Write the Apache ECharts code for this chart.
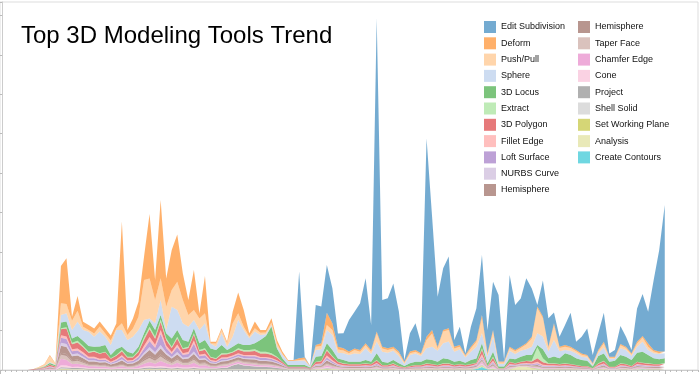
<!DOCTYPE html>
<html><head><meta charset="utf-8">
<script src="https://cdn.jsdelivr.net/npm/echarts@6/dist/echarts.min.js"></script>
<style>html,body{margin:0;padding:0;background:#fff}#c{width:700px;height:374px}</style>
</head><body><div id="c"></div>
<script>
const seriesNames = ["Edit Subdivision","Deform","Push/Pull","Sphere","3D Locus","Extract","3D Polygon","Fillet Edge","Loft Surface","NURBS Curve","Hemisphere","Hemisphere","Taper Face","Chamfer Edge","Cone","Project","Shell Solid","Set Working Plane","Analysis","Create Contours"];
const legendCol1 = ["Edit Subdivision","Deform","Push/Pull","Sphere","3D Locus","Extract","3D Polygon","Fillet Edge","Loft Surface","NURBS Curve","Hemisphere"];
const legendCol2 = ["Hemisphere","Taper Face","Chamfer Edge","Cone","Project","Shell Solid","Set Working Plane","Analysis","Create Contours"];
const monthCount = 127; // axis months (data fills the first 121)
const monthLabels = [];
for (let m = 0; m < monthCount; m++) monthLabels.push('M' + m);

const editSubdivision = [0,0,0,0,0,0,0,0,0,0,0, 0,0,0,0,0,0,0,0,0,0, 0,0,0,0,0,0,0,0,0,0, 0,0,0,0,0,0,0,0,0,0, 0,0,0,0,0,0,0,0,0,0,
 0,0,0,86.7,0.7,0.3,40,36.7,47.7,35, 13.3,15,31.7,36.7,46.7,65,25,313.3,46.7,50, 63.3,40,1.7,18.3,26.7,10,198.3,113.3,50,61.7,
 71.7,6.7,18.3,1.7,20,31.7,60,23.3,48.3,66.7, 1.7,71.7,45,48.3,65,48.3,1.7,36,28.3,10.7, 10,20,34,8.3,16.7,26.7,8.3,16.7,29,3.3, 6.7,18,10,3.3,33.3,42,31.7,70,101.7,146.7];
const deform = [0,0,0,0,0,0,0,0.2,0.5,1,0.5, 37.3,45.7,4,14.7,5,5,5,5,5,5, 5,101.7,5,10,15,23.3,64.3,20,78.3,28.3, 40,47.3,26.7,15,40,5,37.3,1.7,1.7,1.7, 1.7,11.7,20.7,16.7,3.3,6.7,2.7,2.7,4.3,3.3,
 2.3,0.7,0.7,1.7,2,0.3,1.7,2.7,12.3,6.7, 2.7,2.3,1.7,1.7,1.7,1.7,1.7,1.7,1.7,1.7, 1.7,1.7,1,1.7,1.7,1,3.3,3.3,1.7,1.7,
 1.7,1.7,1.7,1,1.7,1.7,3.3,1.7,1.7,1, 1,1.3,1.3,1.3,1.3,1.7,1.7,1.7,1.3,1.7, 1.3,1.7,1.3,1.3,1.3,1,0.7,1.3,1.7,1, 1,1.3,1.3,1,1.7,1.3,3.3,1.7,1.7,1];
const pushPull = [0,0,0,0,0,0,0,0.7,1.5,6,1, 11.7,9.3,9.3,11,3.3,1.6,3.3,5,3.3,4.4, 1.6,6.7,5,8.3,13.3,40,40,23.3,21.7,23.3, 16.7,28.3,23.3,11.7,10,11.6,10,0,3.3,3.3, 3.3,13.3,6.7,3.3,1.7,3.3,2.3,1.7,2.3,3.3,
 1,0.3,0.3,0.7,1.3,0.3,3.3,3.3,5,5, 3.3,2.7,1.7,3.3,2.3,3.3,2.3,8.3,3.3,2.7, 2.3,2.7,1.3,1.7,1.7,1.7,8.3,13.3,2.3,11.7,
 11.7,3.3,2.7,1.3,3.3,5,15,1.7,5,1.3, 1.3,2.7,2.7,2.7,4.7,8.3,25,18.3,3.7,15, 3.3,3.3,2.7,2,2,1.3,1,2,4,1, 1,3,2,1.7,3.3,4.3,3.3,1.7,0.7,0.7];
const sphere = [0,0,0,0,0,0,0,0,0.3,1,0.5, 7.7,8.3,8.3,14.3,10.7,14.3,10,15,8.3,10, 19.3,16.7,11.7,16.7,16.7,13.3,2.3,6.7,15,3.3, 31.7,20,16.7,15,8.3,13.3,16.7,5,3.3,11.7, 3.3,10,23.3,15,6.7,11.7,5,1.7,1.7,1.7,
 3.3,4,4,4.3,4.3,0.7,6.7,6.7,13.3,15, 5.7,6.7,6.7,8.3,7.7,11.7,7.7,11.7,10,10, 9.3,7.3,2,8.3,8.3,5.7,11,13.3,11,15,
 17.7,10,11.3,5.3,8.3,11.7,10,6.7,15,2.7, 2.7,7.7,5.3,6,5.7,8.3,11.7,12.7,6.7,16.7, 7,3.3,4.3,5,3.3,3.3,1.7,2.7,6,3, 2,6.7,6.7,4,6,10,5,5,5.3,5];
const locus3d = [0,0,0,0,0,0,0,0.3,0.5,1.5,1, 5.7,5.7,4.3,4.7,5.3,5.7,4,6.7,6.7,3.3, 5.7,3.3,5,3.3,4,4,6,6.7,4.3,5, 8.3,6.7,8.3,5,5,6.7,8.3,8.3,8.3,8.3, 3.3,5,5,5,5,6,11.7,15.7,26.7,8.3,
 3.3,1.7,1.7,1.7,1.7,0.7,5,4.7,6,6, 3.3,3.3,2.3,2.3,2.3,3.3,2.3,6.7,3.3,2.3, 3.3,2.7,1.3,2.7,3.3,3.3,4,4,3.3,5,
 4,3.3,3.3,2.3,4,4.3,5,2.7,5,1.7, 1.7,3.3,4,5,5.7,5.7,2.3,9,5,6.7, 5.7,10,9,6.7,6,5.3,1.7,7.3,7.3,5, 6,8.3,7.3,6,9,11,8.3,5.7,4.7,5];
const extract = [0,0,0,0,0,0,0.1,0.1,0.2,0.4,0.3, 1,1.2,1.5,1.8,1.2,1,1,0.4,0.6,0.4, 0.7,1.2,0.7,0.8,1.3,2.4,2.3,2,2.7,1.7, 1.2,1.8,1,1.4,1.2,1.2,1.4,0.7,0.8,1.1, 1,0.8,1.4,1.4,1.6,1.8,1.8,1.8,1.5,0.9,
 0.4,0.1,0.1,0.1,0.1,0.1,0.4,0.5,1.3,0.7, 0.4,0.4,0.3,0.3,0.3,0.4,0.3,0.4,0.2,0.2, 0.4,0.2,0.1,0.2,0.2,0.2,0.4,0.3,0.2,0.4,
 0.4,0.2,0.3,0.2,0.3,0.3,1.5,0.2,1,0.1, 0.1,0.4,0.2,0.3,0.4,0.8,11,4,0.4,0.4, 0.3,0.4,0.3,0.2,0.2,0.2,0.1,0.4,0.5,0.1, 0.1,0.4,0.3,0.2,0.4,0.3,0.4,0.3,0.3,0.4];
const polygon3d = [0,0,0,0,0,0,0.3,0.5,0.8,1.5,1, 6,8,5,6,5,4,5,5,6,3, 3.5,4,3,2.5,3.5,6,8,6,8,5.5, 4,6,4,4,6,3.5,4,2.5,2,3, 3,3,3.5,3.5,3.5,4,3.5,3.5,3.2,2.7,
 1.5,0.6,0.6,0.6,0.6,0.4,2,2.2,5,3.5, 2,1.6,1.4,1.4,1.4,1.6,1.4,2.5,1.2,1.2, 1.6,1,0.6,1,1.2,1.2,1.6,1.4,1.2,1.6,
 1.6,1.2,1.4,1.2,1.4,1.1,4.5,0.6,3,0.4, 0.4,2,1.2,1.5,2,2,3.5,2.5,1.6,1.6, 1.4,1.6,1.4,1.2,1,1,0.4,1.6,2.2,0.8, 0.8,1.6,1.4,1,2,1.7,1.6,1.4,1.4,1.6];
const filletEdge = [0,0,0,0,0,0,0.1,0.1,0.2,0.4,0.3, 2.5,2.5,2,2,2,1.5,1.5,1.2,1.5,1, 1.2,1.5,1,1,1.5,3,4,3,4,2.5, 2,2.5,1.5,1.8,3,1.5,1.5,1,0.8,1.2, 1.2,1.2,1.2,1.2,1.2,1.2,1,1,1,0.8,
 0.5,0.2,0.2,0.2,0.2,0.1,0.7,0.8,2,1.3, 0.7,0.6,0.5,0.5,0.5,0.6,0.5,0.9,0.4,0.4, 0.6,0.3,0.2,0.3,0.4,0.4,0.6,0.5,0.4,0.6,
 0.6,0.4,0.5,0.4,0.5,0.6,2.5,0.3,1.3,0.1, 0.1,0.7,0.4,0.5,0.6,0.7,1.5,0.9,0.6,0.6, 0.5,0.6,0.5,0.4,0.3,0.3,0.1,0.6,0.8,0.3, 0.3,0.6,0.5,0.3,0.7,0.6,0.6,0.5,0.5,0.6];
const loftSurface = [0,0,0,0,0,0,0.1,0.2,0.3,0.6,0.4, 5,5,3,3,2.5,2,2,1.5,1.5,1, 1.5,2.5,1.5,1.5,2.5,4,6,4.5,11,4.5, 3,5,3,3,8,2.5,3,1.5,1.2,1.8, 1.5,1.5,1.8,1.8,2,2.2,2,2,1.8,1.5,
 1,0.3,0.3,0.3,0.3,0.1,0.8,0.9,2,1.4, 0.8,0.7,0.6,0.6,0.6,0.7,0.6,1,0.5,0.5, 0.7,0.4,0.3,0.4,0.5,0.5,0.7,0.6,0.5,0.7,
 0.7,0.5,0.6,0.5,0.6,0.7,1.5,0.4,1.3,0.2, 0.2,0.8,0.5,0.6,0.7,0.8,1.2,0.8,0.7,0.7, 0.6,0.7,0.6,0.5,0.4,0.4,0.2,0.7,0.9,0.3, 0.3,0.7,0.6,0.4,0.8,0.7,0.7,0.6,0.6,0.7];
const nurbsCurve = [0,0,0,0,0,0,0,0.1,0.2,0.3,0.2, 3,3,2,2,1.5,1.2,1.2,1,1,0.8, 1,1.3,0.8,1,1.3,2,3,2.5,3.5,2, 1.5,2.5,1.5,1.5,2.5,1.2,1.2,0.8,0.7,1, 1,1,1,1,1,1,1,1,0.8,0.7,
 0.4,0.2,0.2,0.2,0.2,0.1,0.4,0.5,1,0.7, 0.4,0.3,0.3,0.3,0.3,0.3,0.3,0.5,0.3,0.3, 0.3,0.2,0.1,0.2,0.3,0.3,0.3,0.3,0.3,0.3,
 0.3,0.3,0.3,0.3,0.3,0.4,1,0.2,0.6,0.1, 0.1,0.4,0.3,0.3,0.3,0.4,0.6,0.4,0.3,0.3, 0.3,0.3,0.3,0.3,0.2,0.2,0.1,0.3,0.5,0.2, 0.2,0.3,0.3,0.2,0.4,0.4,0.3,0.3,0.3,0.3];
const hemisphereA = [0,0,0,0,0,0,0.2,0.3,0.4,0.8,0.5, 7,7,4,4,3.5,2.5,2.5,2.5,2.5,1.8, 2.5,3.5,2.2,2.2,3,4.5,6,4.5,6,4.5, 3.5,4,3,3.5,4.5,3,3,2,1.8,2.5, 2.5,2.2,2.5,2.5,2.5,2.8,2.5,2.5,2.3,1.8,
 1.2,0.4,0.4,0.4,0.4,0.2,0.8,1,2.5,1.6, 0.8,0.7,0.6,0.6,0.6,0.7,0.6,1,0.5,0.5, 0.7,0.4,0.3,0.4,0.5,0.5,0.7,0.6,0.5,0.7,
 0.7,0.5,0.6,0.5,0.6,0.7,1,0.4,1.3,0.2, 0.2,0.8,0.5,0.5,0.6,0.7,1,0.7,0.7,0.7, 0.6,0.7,0.6,0.5,0.4,0.4,0.2,0.7,1,0.3, 0.3,0.7,0.6,0.4,0.8,0.7,0.7,0.6,0.6,0.7];
const hemisphereB = [0,0,0,0,0,0,0,0,0.1,0.2,0.1, 2,2,1.2,1.2,1,0.8,0.8,0.7,0.7,0.5, 0.6,0.8,0.5,0.5,0.8,1.5,2,1.5,2,1.2, 1,1.2,0.8,0.8,1.2,0.8,0.8,0.5,0.5,0.6, 0.6,0.6,0.6,0.6,0.6,0.6,0.5,0.5,0.5,0.4,
 0.3,0.1,0.1,0.1,0.1,0.1,0.3,0.3,0.7,0.5, 0.3,0.2,0.2,0.2,0.2,0.2,0.2,0.3,0.2,0.2, 0.2,0.1,0.1,0.1,0.2,0.2,0.2,0.2,0.2,0.2,
 0.2,0.2,0.2,0.2,0.2,0.2,0.5,0.1,0.4,0.1, 0.1,0.3,0.2,0.2,0.2,0.2,0.3,0.2,0.2,0.2, 0.2,0.2,0.2,0.2,0.1,0.1,0.1,0.2,0.3,0.1, 0.1,0.2,0.2,0.1,0.3,0.2,0.2,0.2,0.2,0.2];
const taperFace = [0,0,0,0,0,0,0.1,0.1,0.3,0.5,0.3, 4,4,2.5,3,2,1.5,1.5,1.2,1.3,1, 1.2,1.5,1,1.2,1.5,3,4,3,4.5,3, 2,3,2,2.2,3,2,2,1.2,1,1.5, 1.5,1.5,1.5,1.5,1.5,1.5,1.3,1.3,1.2,1,
 0.6,0.3,0.3,0.3,0.3,0.1,0.7,0.8,1.8,1.2, 0.7,0.5,0.5,0.5,0.5,0.5,0.5,0.8,0.4,0.4, 0.5,0.3,0.2,0.3,0.4,0.4,0.5,0.5,0.4,0.5,
 0.5,0.4,0.5,0.4,0.5,0.5,1.2,0.3,1,0.1, 0.1,0.7,0.4,0.4,0.5,0.6,0.8,0.5,0.5,0.5, 0.5,0.5,0.5,0.4,0.3,0.3,0.1,0.5,0.8,0.3, 0.3,0.5,0.5,0.3,0.7,0.5,0.5,0.5,0.5,0.5];
const chamferEdge = [0,0,0,0,0,0,0.1,0.2,0.3,0.5,0.4, 6.5,5.5,3,3,2.5,1.8,1.8,1.5,1.5,1, 1.3,1.8,1.2,1.2,2,3,4,3,5,3.5, 2.5,4,2.5,2.5,4,2,2.5,1.2,1,1.5, 1.5,1.5,1.5,1.5,1.5,1.5,1.3,1.3,1.2,1,
 0.6,0.2,0.2,0.2,0.2,0.1,0.6,0.6,1.5,1, 0.6,0.5,0.4,0.4,0.4,0.5,0.4,0.7,0.3,0.3, 0.5,0.3,0.2,0.3,0.3,0.3,0.5,0.4,0.3,0.5,
 0.5,0.3,0.4,0.3,0.4,0.5,1.5,0.3,1,0.1, 0.1,0.6,0.3,0.3,0.3,0.5,0.6,0.4,0.5,0.5, 0.4,0.5,0.4,0.3,0.3,0.3,0.1,0.5,0.6,0.2, 0.2,0.5,0.4,0.3,0.6,0.5,0.5,0.4,0.4,0.5];
const cone = [0,0,0,0,0,0,0,0.1,0.1,0.1,0.1, 2,2,1,1.2,1,0.8,0.8,0.6,0.6,0.4, 0.5,0.7,0.5,0.5,0.7,1.2,1.5,1.2,1.5,1.2, 1,1.2,0.8,1,1.2,0.8,0.8,0.5,0.5,0.6, 0.6,0.6,0.6,0.6,0.6,0.6,0.5,0.5,0.5,0.4,
 0.3,0.1,0.1,0.1,0.1,0.1,0.4,0.4,0.8,0.6, 0.4,0.3,0.3,0.3,0.3,0.3,0.3,0.5,0.2,0.2, 0.3,0.2,0.1,0.2,0.2,0.2,0.3,0.3,0.2,0.3,
 0.3,0.2,0.3,0.2,0.3,0.3,1,0.2,0.6,0.1, 0.1,0.4,0.2,0.2,0.2,0.3,0.4,0.3,0.3,0.3, 0.3,0.3,0.3,0.2,0.2,0.2,0.1,0.3,0.4,0.2, 0.2,0.3,0.3,0.2,0.4,0.3,0.3,0.3,0.3,0.3];
const project = [0,0,0,0,0,0,0,0,0.1,0.1,0.1, 1,1,1,1,0.8,0.6,0.6,0.5,0.5,0.4, 0.5,0.6,0.5,0.5,0.6,1,1.2,1,1.2,1, 0.8,1,0.8,0.8,1,0.8,0.8,0.8,0.8,1.2, 1.5,3.5,5,3.5,3,2.5,2,2,1.8,1.5,
 1,0.4,0.4,0.4,0.4,0.1,0.3,0.3,0.6,0.4, 0.3,0.2,0.2,0.2,0.2,0.2,0.2,0.3,0.2,0.2, 0.2,0.1,0.1,0.1,0.2,0.2,0.2,0.2,0.2,0.2,
 0.2,0.2,0.2,0.2,0.2,0.2,0.5,0.1,0.4,0, 0,0.3,0.1,0.1,0.1,0.2,0.3,0.2,0.2,0.2, 0.2,0.2,0.2,0.2,0.1,0.1,0,0.2,0.3,0.1, 0.1,0.2,0.2,0.1,0.3,0.2,0.2,0.2,0.2,0.2];
const shellSolid = [0,0,0,0,0,0,0,0,0,0.1,0, 1,0.7,0.5,0.5,0.4,0.3,0.3,0.3,0.3,0.2, 0.2,0.3,0.2,0.2,0.3,0.5,0.6,0.5,0.6,0.5, 0.4,0.5,0.4,0.4,0.5,0.3,0.3,0.3,0.3,0.4, 0.5,0.6,0.8,0.6,0.6,0.6,0.5,0.5,0.5,0.4,
 0.3,0.2,0.2,0.2,0.2,0.1,0.3,0.3,0.5,0.4, 0.3,0.2,0.2,0.2,0.2,0.2,0.2,0.3,0.2,0.2, 0.2,0.2,0.1,0.2,0.2,0.2,0.2,0.2,0.2,0.2,
 0.2,0.2,0.2,0.2,0.2,0.2,0.5,0.2,0.4,0.1, 0.1,0.3,0.1,0.1,0.1,0.2,0.3,0.2,0.2,0.2, 0.2,0.2,0.2,0.2,0.2,0.2,0.1,0.2,0.3,0.1, 0.1,0.2,0.2,0.2,0.3,0.2,0.2,0.2,0.2,0.2];
const setWorkingPlane = [0,0,0,0,0,0,0,0,0,0.1,0, 0.5,0.5,0.3,0.3,0.3,0.2,0.2,0.2,0.2,0.1, 0.2,0.2,0.1,0.1,0.2,0.3,0.4,0.3,0.4,0.3, 0.2,0.3,0.2,0.2,0.3,0.2,0.2,0.2,0.2,0.2, 0.2,0.2,0.2,0.2,0.2,0.2,0.2,0.2,0.2,0.1,
 0.1,0.1,0.1,0.1,0.1,0.1,0.3,0.3,0.4,0.3, 0.3,0.2,0.2,0.2,0.2,0.2,0.2,0.3,0.2,0.2, 0.2,0.1,0.1,0.1,0.2,0.2,0.2,0.2,0.2,0.2,
 0.2,0.2,0.2,0.2,0.2,0.3,0.8,0.1,0.4,0, 0,0.3,0.2,0.2,0.2,0.3,0.4,0.2,0.2,0.2, 0.2,0.2,0.2,0.2,0.1,0.1,0,0.2,0.3,0.1, 0.1,0.2,0.2,0.1,0.3,0.3,0.2,0.2,0.2,0.2];
const analysis = [0,0,0,0,0,0,0,0,0,0,0, 0.2,0.3,0.2,0.2,0.2,0.1,0.1,0.1,0.1,0.1, 0.1,0.1,0.1,0.1,0.1,0.2,0.2,0.2,0.2,0.2, 0.1,0.2,0.1,0.1,0.2,0.1,0.1,0.1,0.1,0.1, 0.1,0.1,0.1,0.1,0.2,0.2,0.2,0.2,0.2,0.1,
 0.1,0.1,0.1,0.1,0.1,0.1,0.2,0.3,0.4,0.3, 0.2,0.2,0.2,0.2,0.2,0.2,0.2,0.3,0.1,0.1, 0.2,0.1,0.1,0.1,0.1,0.1,0.2,0.2,0.1,0.2,
 0.2,0.1,0.2,0.1,0.2,0.3,0.7,0.1,0.4,0.1, 0.1,0.2,2,3,3,1.5,0.6,0.3,0.2,0.2, 0.2,0.2,0.2,0.1,0.1,0.1,0.1,0.2,0.3,0.1, 0.1,0.2,0.2,0.1,0.2,0.3,0.2,0.2,0.2,0.2];
const createContours = [0,0,0,0,0,0,0,0,0,0,0, 0,0,0.1,0.1,0.1,0,0,0,0,0, 0,0,0,0,0,0.1,0.1,0.1,0.1,0.1, 0.1,0.1,0.1,0.1,0.1,0.1,0.1,0,0,0, 0,0,0,0,0,0,0,0,0,0,
 0,0,0,0,0,0,0.1,0.1,0.2,0.1, 0.1,0.1,0.1,0.1,0.1,0.1,0.1,0.2,0.1,0.1, 0.1,0.1,0.1,0.1,0.1,0.1,0.1,0.1,0.1,0.1,
 0.1,0.1,0.1,0.1,0.1,1,3,0.5,0.2,0, 0,0.1,0.1,0.1,0.1,0.1,0.2,0.1,0.1,0.1, 0.1,0.1,0.1,0.1,0.1,0.1,0,0.1,0.1,0.1, 0.1,0.1,0.1,0.1,0.1,0.4,0.1,0.1,0.1,0.1];

const seriesValues = [editSubdivision, deform, pushPull, sphere, locus3d, extract, polygon3d, filletEdge, loftSurface, nurbsCurve, hemisphereA, hemisphereB, taperFace, chamferEdge, cone, project, shellSolid, setWorkingPlane, analysis, createContours];
const seriesRGB = ["31,119,180","255,127,14","255,187,120","174,199,232","44,160,44","152,223,138","214,39,40","255,152,150","148,103,189","197,176,213","140,86,75","140,86,75","196,156,148","227,119,194","247,182,210","127,127,127","199,199,199","188,189,34","219,219,141","23,190,207"];

const chart = echarts.init(document.getElementById('c'), null, {renderer: 'canvas'});
const series = [];
for (let k = seriesNames.length - 1; k >= 0; k--) {
  const col = 'rgba(' + seriesRGB[k] + ',0.62)';
  series.push({
    type: 'line', name: seriesNames[k], stack: 'all',
    data: seriesValues[k],
    symbol: 'none', showSymbol: false, smooth: false,
    color: col,
    itemStyle: {color: col},
    lineStyle: {width: 0, color: col},
    areaStyle: {color: col, opacity: 1},
    emphasis: {disabled: true}
  });
}
const legendCommon = {
  orient: 'vertical', icon: 'rect', itemWidth: 12, itemHeight: 12, itemGap: 4.3, padding: 0,
  textStyle: {fontSize: 9, color: '#111', fontFamily: 'Liberation Sans, Arial, sans-serif'},
  selectedMode: false
};
chart.setOption({
  animation: false,
  backgroundColor: '#fff',
  title: {text: 'Top 3D Modeling Tools Trend', left: 21, top: 24, padding: 0,
    textStyle: {fontSize: 24, fontWeight: 'normal', color: '#000', fontFamily: 'Liberation Sans, Arial, sans-serif'}},
  legend: [
    Object.assign({left: 484, top: 21, data: legendCol1}, legendCommon),
    Object.assign({left: 578, top: 21, data: legendCol2}, legendCommon)
  ],
  grid: {left: 0, right: 2, top: 2, bottom: 4, show: true, borderColor: '#ddd', borderWidth: 1},
  xAxis: [
    {type: 'category', data: monthLabels, boundaryGap: false, gridIndex: 0,
     axisLine: {show: true, lineStyle: {color: '#ccc'}},
     axisTick: {show: true, interval: 0, length: 2, lineStyle: {color: '#bbb'}},
     axisLabel: {show: false}, splitLine: {show: false}},
    {type: 'category', data: monthLabels, boundaryGap: false, gridIndex: 0, position: 'bottom',
     axisLine: {show: false},
     axisTick: {show: true, interval: function (idx) { return idx % 12 === 0; }, length: 4, lineStyle: {color: '#bbb'}},
     axisLabel: {show: false}, splitLine: {show: false}}
  ],
  yAxis: {type: 'value', min: 0, max: 368, interval: 39.4, offset: -2,
    axisLine: {show: true, lineStyle: {color: '#ccc'}}, axisTick: {show: true, length: 3, lineStyle: {color: '#bbb'}},
    axisLabel: {show: false}, splitLine: {show: false}},
  series: series
});
</script></body></html>
